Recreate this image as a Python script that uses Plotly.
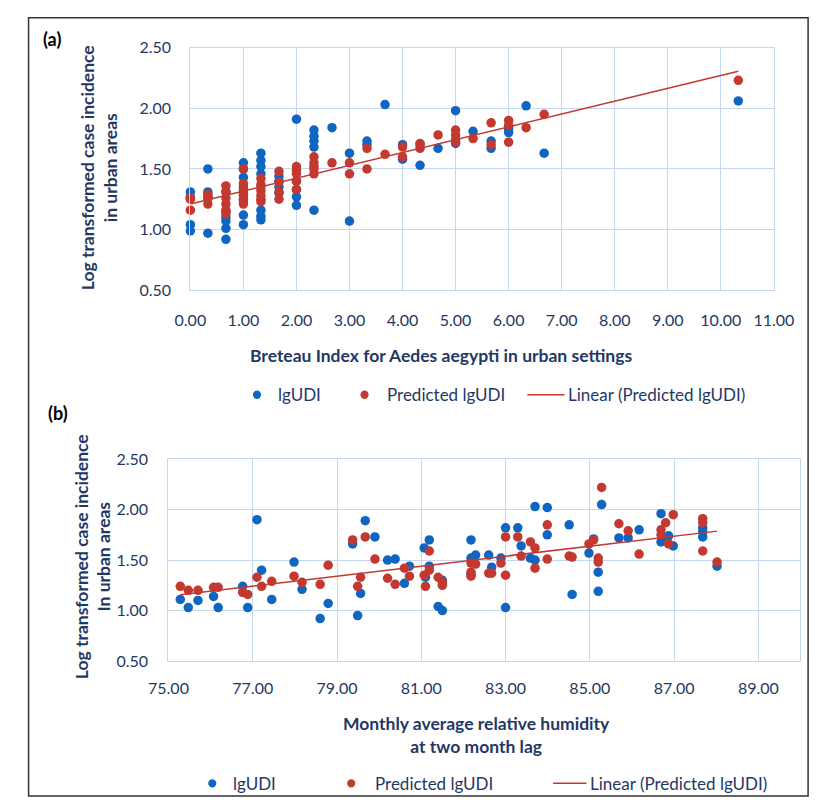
import numpy as np
import plotly.graph_objects as go

# ---------------- Data: panel (a) ----------------
bi_x = [0, 0, 0, 0,
        0.33, 0.33, 0.33, 0.33,
        0.67, 0.67, 0.67, 0.67, 0.67, 0.67,
        1, 1, 1, 1, 1, 1, 1,
        1.33, 1.33, 1.33, 1.33, 1.33, 1.33, 1.33,
        1.67, 1.67, 1.67, 1.67,
        2, 2, 2, 2, 2,
        2.33, 2.33, 2.33, 2.33, 2.33,
        2.67,
        3, 3,
        3.33, 3.33,
        3.67,
        4, 4,
        4.33, 4.33,
        4.67,
        5, 5, 5,
        5.33,
        5.67, 5.67,
        6, 6, 6,
        6.33,
        6.67,
        10.33]
bi_obs = [1.31, 1.27, 1.04, 0.99,
          1.50, 1.31, 1.27, 0.97,
          1.31, 1.10, 1.07, 1.01, 0.92, 1.15,
          1.55, 1.50, 1.43, 1.35, 1.25, 1.12, 1.04,
          1.63, 1.57, 1.52, 1.46, 1.16, 1.11, 1.08,
          1.44, 1.40, 1.35, 1.30,
          1.91, 1.27, 1.20, 1.33, 1.40,
          1.82, 1.77, 1.73, 1.68, 1.16,
          1.84,
          1.63, 1.07,
          1.73, 1.70,
          2.03,
          1.70, 1.58,
          1.53, 1.70,
          1.67,
          1.98, 1.71, 1.74,
          1.81,
          1.73, 1.67,
          1.83, 1.80, 1.85,
          2.02,
          1.63,
          2.06]
bi_pred = [1.26, 1.26, 1.16, 1.25,
           1.29, 1.26, 1.21, 1.26,
           1.36, 1.31, 1.26, 1.21, 1.16, 1.13,
           1.50, 1.38, 1.33, 1.28, 1.23, 1.21, 1.30,
           1.42, 1.37, 1.32, 1.28, 1.23, 1.25, 1.35,
           1.48, 1.39, 1.31, 1.25,
           1.52, 1.46, 1.40, 1.33, 1.49,
           1.60, 1.55, 1.50, 1.46, 1.52,
           1.55,
           1.55, 1.46,
           1.67, 1.50,
           1.62,
           1.68, 1.60,
           1.71, 1.67,
           1.78,
           1.82, 1.78, 1.72,
           1.75,
           1.88, 1.70,
           1.90, 1.86, 1.72,
           1.84,
           1.95,
           2.23]

# ---------------- Data: panel (b) ----------------
rh_x = [75.28, 75.47, 75.70, 76.07, 76.18, 76.76, 76.88, 77.10, 77.21, 77.45,
        77.98, 78.17, 78.60, 78.79, 79.37, 79.49, 79.56, 79.67, 79.90, 80.20,
        80.38, 80.60, 80.72, 81.07, 81.10, 81.19, 81.19, 81.40, 81.50, 81.50,
        82.18, 82.18, 82.29, 82.18, 82.60, 82.67, 82.89, 83.00, 83.00, 83.29,
        83.37, 83.59, 83.70, 83.70, 83.99, 83.99, 84.51, 84.58, 84.98, 85.09,
        85.20, 85.20, 85.28, 85.69, 85.91, 86.17, 86.69, 86.69, 86.80, 86.87,
        86.98, 87.68, 87.68, 87.68, 88.02]
rh_obs = [1.11, 1.03, 1.10, 1.14, 1.03, 1.24, 1.03, 1.90, 1.40, 1.11,
          1.48, 1.21, 0.92, 1.07, 1.66, 0.95, 1.17, 1.89, 1.73, 1.50,
          1.51, 1.27, 1.44, 1.62, 1.33, 1.70, 1.44, 1.04, 1.00, 1.30,
          1.70, 1.52, 1.55, 1.36, 1.55, 1.43, 1.52, 1.03, 1.82, 1.82,
          1.64, 1.52, 1.50, 2.03, 2.02, 1.75, 1.85, 1.16, 1.57, 1.71,
          1.38, 1.19, 2.05, 1.72, 1.72, 1.80, 1.96, 1.68, 1.72, 1.74,
          1.64, 1.82, 1.73, 1.78, 1.44]
rh_pred = [1.24, 1.20, 1.20, 1.23, 1.23, 1.18, 1.16, 1.33, 1.24, 1.29,
           1.34, 1.28, 1.26, 1.45, 1.70, 1.24, 1.33, 1.73, 1.51, 1.32,
           1.26, 1.42, 1.34, 1.35, 1.24, 1.59, 1.40, 1.33, 1.28, 1.25,
           1.47, 1.38, 1.46, 1.34, 1.37, 1.37, 1.47, 1.35, 1.73, 1.73,
           1.54, 1.68, 1.62, 1.42, 1.85, 1.51, 1.54, 1.53, 1.66, 1.70,
           1.52, 1.48, 2.22, 1.86, 1.79, 1.56, 1.80, 1.75, 1.87, 1.66,
           1.95, 1.91, 1.87, 1.59, 1.48]

legend_labels = ["lgUDI", "Predicted lgUDI", "Linear (Predicted lgUDI)"]

# ---------------- Styling ----------------
W, H = 830, 807
BLUE = "#0F66C2"
RED = "#C3392F"
GRID = "#C8D7F1"
NAVY = "#1F3864"
FONT = "Lato, 'Open Sans', sans-serif"


def fx(px):
    return px / W


def fy(py):
    return 1 - py / H


fig = go.Figure()


def add_panel(xs, obs, pred, xa, ya):
    fig.add_trace(go.Scatter(x=xs, y=obs, mode="markers", name=legend_labels[0],
                             marker=dict(color=BLUE, size=9.5), xaxis=xa, yaxis=ya,
                             cliponaxis=False, showlegend=False))
    fig.add_trace(go.Scatter(x=xs, y=pred, mode="markers", name=legend_labels[1],
                             marker=dict(color=RED, size=9.5), xaxis=xa, yaxis=ya,
                             cliponaxis=False, showlegend=False))
    slope, icpt = np.polyfit(np.array(xs, float), np.array(pred, float), 1)
    lx = np.array([min(xs), max(xs)])
    fig.add_trace(go.Scatter(x=lx, y=slope * lx + icpt, mode="lines", name=legend_labels[2],
                             line=dict(color=RED, width=1.5), xaxis=xa, yaxis=ya,
                             cliponaxis=False, showlegend=False))


add_panel(bi_x, bi_obs, bi_pred, "x", "y")
add_panel(rh_x, rh_obs, rh_pred, "x2", "y2")

axis_common = dict(showgrid=True, gridcolor=GRID, gridwidth=1.3, zeroline=False,
                   showline=True, linecolor=GRID, linewidth=1.3, mirror=True,
                   ticks="", tickfont=dict(family=FONT, size=16, color=NAVY),
                   tickformat=".2f")

fig.update_layout(
    width=W, height=H,
    margin=dict(l=0, r=0, t=0, b=0),
    paper_bgcolor="white", plot_bgcolor="white",
    showlegend=False,
    xaxis=dict(domain=[fx(179), fx(792)], range=[0, 11], dtick=1, tick0=0,
               anchor="y", ticklabelstandoff=15, **axis_common),
    yaxis=dict(domain=[fy(287), fy(38.5)], range=[0.5, 2.5], dtick=0.5, tick0=0.5,
               anchor="x", ticklabelstandoff=15, **axis_common),
    xaxis2=dict(domain=[fx(156), fx(820)], range=[75, 90], dtick=2, tick0=75,
                anchor="y2", ticklabelstandoff=13, **axis_common),
    yaxis2=dict(domain=[fy(666.7), fy(460)], range=[0.5, 2.5], dtick=0.5, tick0=0.5,
                anchor="x2", ticklabelstandoff=16, **axis_common),
)

ann = []
shapes = []


def text(x, y, s, size=15, bold=False, color=NAVY, angle=0, xanchor="center"):
    ann.append(dict(x=fx(x), y=fy(y), xref="paper", yref="paper", text=s,
                    showarrow=False, textangle=angle, xanchor=xanchor, yanchor="middle",
                    font=dict(family=FONT, size=size, color=color,
                              weight="bold" if bold else "normal")))


# Panel labels
text(22, 30, "(a)", size=18, bold=True, color="black", xanchor="left")
text(27, 413, "(b)", size=18, bold=True, color="black", xanchor="left")

# Axis titles
text(442, 354, "Breteau Index for Aedes aegypti in urban settings", size=17.5, bold=True)
text(83, 162, "Log transformed case incidence<br>in urban areas", size=17.5, bold=True, angle=-90)
text(480, 742, "Monthly average relative humidity<br>at two month lag", size=17.5, bold=True)
text(76, 560, "Log transformed case incidence<br>In urban areas", size=17.5, bold=True, angle=-90)


# Legends
def legend(y, dot1, t1, dot2, t2, l0, l1, t3):
    r = 4.3
    shapes.append(dict(type="circle", xref="paper", yref="paper",
                       x0=fx(dot1 - r), x1=fx(dot1 + r), y0=fy(y + r), y1=fy(y - r),
                       fillcolor=BLUE, line=dict(width=0)))
    shapes.append(dict(type="circle", xref="paper", yref="paper",
                       x0=fx(dot2 - r), x1=fx(dot2 + r), y0=fy(y + r), y1=fy(y - r),
                       fillcolor=RED, line=dict(width=0)))
    shapes.append(dict(type="line", xref="paper", yref="paper",
                       x0=fx(l0), x1=fx(l1), y0=fy(y), y1=fy(y),
                       line=dict(color=RED, width=1.5)))
    text(t1, y, legend_labels[0], size=17, xanchor="left")
    text(t2, y, legend_labels[1], size=17, xanchor="left")
    text(t3, y, legend_labels[2], size=17, xanchor="left")


legend(394, 249, 269, 362, 384, 533, 572, 574)
legend(792, 202, 222, 348, 371, 560, 595, 597)

# Outer frame
shapes.append(dict(type="rect", xref="paper", yref="paper",
                   x0=fx(9), x1=fx(828), y0=fy(805), y1=fy(8),
                   line=dict(color="#333333", width=1.5), fillcolor="rgba(0,0,0,0)"))

fig.update_layout(annotations=ann, shapes=shapes)
fig.write_html(
    "out.html",
    post_script="document.body.style.margin='0';document.documentElement.style.overflow='hidden';",
)
